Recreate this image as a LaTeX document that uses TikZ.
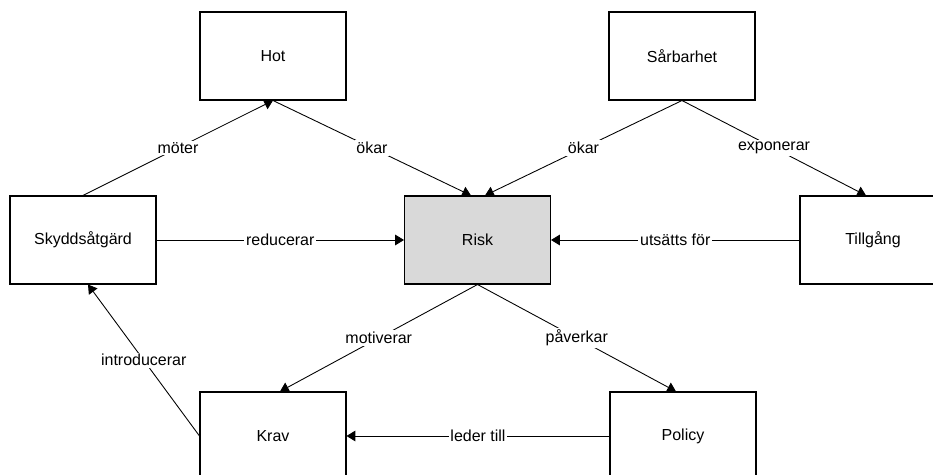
\documentclass[tikz,border=0pt]{standalone}
\usepackage{fontspec}
\setmainfont{Liberation Sans}
\usetikzlibrary{arrows.meta,positioning}

\tikzset{
  box/.style={draw,line width=0.6pt,minimum width=2.92cm,minimum height=1.76cm,font=\fontsize{9.1}{11}\selectfont},
  riskbox/.style={box,fill=gray!30},
  rel/.style={-{Triangle[length=5pt,width=6pt]},line width=0.5pt},
  lbl/.style={midway,fill=white,inner sep=1pt,font=\fontsize{9.1}{11}\selectfont}
}

\begin{document}
\begin{tikzpicture}[x=0.02cm,y=-0.02cm]
  \useasboundingbox (0,0) rectangle (933,475);
  \clip (0,0) rectangle (933,475);

  % Boxes
  \node[box] (hot) at (273,56) {Hot};
  \node[box] (sarb) at (682,56) {Sårbarhet};
  \node[box] (skydd) at (83,240) {Skyddsåtgärd};
  \node[riskbox] (risk) at (477.5,240) {Risk};
  \node[box] (tillg) at (873,240) {Tillgång};
  \node[box] (krav) at (273,436) {Krav};
  \node[box] (policy) at (683,436) {Policy};

  % Relations
  \draw[rel] (skydd.north) -- node[lbl] {möter} (hot.south);
  \draw[rel] (hot.south) -- node[lbl] {ökar} ([xshift=-0.13cm]risk.north);
  \draw[rel] (sarb.south) -- node[lbl] {ökar} ([xshift=0.15cm]risk.north);
  \draw[rel] (sarb.south) -- node[lbl] {exponerar} ([xshift=-0.14cm]tillg.north);
  \draw[rel] (skydd.east) -- node[lbl] {reducerar} (risk.west);
  \draw[rel] (tillg.west) -- node[lbl] {utsätts för} (risk.east);
  \draw[rel] (risk.south) -- node[lbl] {motiverar} ([xshift=0.14cm]krav.north);
  \draw[rel] (risk.south) -- node[lbl] {påverkar} ([xshift=-0.14cm]policy.north);
  \draw[rel] (policy.west) -- node[lbl] {leder till} (krav.east);
  \draw[rel] (krav.west) -- node[lbl] {introducerar} ([xshift=0.1cm]skydd.south);
\end{tikzpicture}
\end{document}
